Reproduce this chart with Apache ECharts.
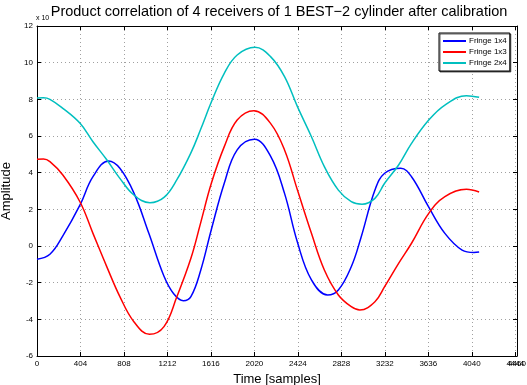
<!DOCTYPE html>
<html lang="en">
<head>
	<meta charset="UTF-8">
	<title>Product correlation</title>
	<style>
		html, body { margin: 0; padding: 0; background: #fff; }
	</style>
</head>
<body>
	<div id="container" style="width: 527px;height:385px;"></div>

	<script src="https://cdn.jsdelivr.net/npm/echarts@6/dist/echarts.min.js"></script>
	<script>
        // Fringe 1x4 (blue): sample position and amplitude
        var blueX = [0, 120, 240, 400, 520, 665, 770, 900, 1040, 1180, 1270, 1360, 1430, 1520, 1620, 1740, 1860, 2020,
            2170, 2300, 2420, 2550, 2700, 2800, 2920, 3010, 3140, 3230, 3380, 3480, 3640, 3790, 3950, 4060, 4108];
        var blueY = [-0.72, -0.45, 0.55, 2.24, 3.78, 4.64, 4.24, 2.9, 0.68, -1.65, -2.6, -2.98, -2.76, -1.35, 0.9, 3.42, 5.24, 5.82,
            4.9, 2.87, 0.2, -1.85, -2.67, -2.4, -1.13, 0.45, 3.05, 3.97, 4.24, 3.78, 2.12, 0.69, -0.22, -0.35, -0.33];

        // Fringe 1x3 (red)
        var redX = [0, 60, 120, 240, 400, 520, 650, 770, 900, 1045, 1180, 1300, 1430, 1520, 1620, 1740, 1860, 2015,
            2170, 2300, 2420, 2550, 2670, 2800, 2920, 3000, 3140, 3230, 3360, 3480, 3640, 3790, 3990, 4108];
        var redY = [4.73, 4.74, 4.6, 3.87, 2.4, 0.69, -1.15, -2.76, -4.13, -4.82, -4.4, -2.76, -0.67, 1.25, 3.42, 5.42, 6.87, 7.38,
            6.69, 5.24, 3.05, 0.69, -1.31, -2.67, -3.31, -3.49, -3.04, -2.22, -0.95, 0.15, 1.78, 2.69, 3.09, 2.95];

        // Fringe 2x4 (cyan)
        var cyanX = [0, 60, 120, 240, 400, 520, 650, 770, 900, 1050, 1180, 1300, 1430, 1520, 1620, 1740, 1860, 2025,
            2170, 2300, 2420, 2550, 2670, 2800, 2920, 3020, 3140, 3230, 3360, 3480, 3640, 3790, 3990, 4108];
        var cyanY = [8.07, 8.08, 8.0, 7.51, 6.69, 5.69, 4.69, 3.69, 2.78, 2.36, 2.65, 3.62, 5.08, 6.35, 7.85, 9.42, 10.42, 10.84,
            10.33, 9.24, 7.6, 5.96, 4.33, 3.05, 2.42, 2.28, 2.6, 3.42, 4.42, 5.6, 6.87, 7.69, 8.2, 8.11];

        var seriesNames = ['Fringe 1x4', 'Fringe 1x3', 'Fringe 2x4'];
        var seriesColors = ['#0000ff', '#ff0000', '#00bfbf'];
        var seriesXs = [blueX, redX, cyanX];
        var seriesYs = [blueY, redY, cyanY];

        var xMin = 0, xMax = 4460, xStep = 404;
        var yMin = -6, yMax = 12, yStep = 2;

        var fontName = 'Liberation Sans, Arial, Helvetica, sans-serif';

        function pairs(xs, ys) {
            var out = [];
            for (var i = 0; i < xs.length; i++) {
                out.push([xs[i], ys[i]]);
            }
            return out;
        }

        var gridLine = { show: true, lineStyle: { color: '#a0a0a0', type: [1, 3], width: 1 } };
        var boxLine = { show: true, onZero: false, lineStyle: { color: '#000', width: 1 } };
        var inTick = { show: true, inside: true, length: 4, lineStyle: { color: '#000', width: 1 } };
        var plainNumber = function (v) { return String(v); };

        var series = [];
        for (var i = 0; i < seriesNames.length; i++) {
            series.push({
                name: seriesNames[i],
                type: 'line',
                data: pairs(seriesXs[i], seriesYs[i]),
                smooth: 0.4,
                symbol: 'none',
                lineStyle: { color: seriesColors[i], width: 1.5 },
                itemStyle: { color: seriesColors[i] }
            });
        }

        var xLabelText = { type: 'text', left: 36, top: 15, style: { text: 'x 10', fontSize: 7, fill: '#000', fontFamily: fontName } };

        var option = {
            animation: false,
            backgroundColor: '#fff',
            textStyle: { fontFamily: fontName },
            title: {
                text: 'Product correlation of 4 receivers of 1 BEST\u22122 cylinder after calibration',
                left: 279,
                top: 4,
                textAlign: 'center',
                padding: 0,
                textStyle: { fontSize: 14.5, fontWeight: 'normal', color: '#000', fontFamily: fontName }
            },
            legend: {
                orient: 'vertical',
                left: 439,
                top: 33,
                align: 'left',
                padding: [3, 3, 3, 4],
                itemGap: 1,
                itemWidth: 23,
                itemHeight: 2,
                icon: 'rect',
                backgroundColor: '#fff',
                borderColor: '#000',
                borderWidth: 1,
                shadowColor: 'rgba(0,0,0,0.6)',
                shadowOffsetX: 1,
                shadowOffsetY: 1,
                textStyle: { fontSize: 8, color: '#000', fontFamily: fontName, padding: [0, 0, 0, -2], lineHeight: 10 },
                data: seriesNames
            },
            grid: {
                left: 37,
                right: 10,
                top: 26,
                bottom: 29,
                outerBoundsMode: 'none'
            },
            xAxis: [{
                type: 'value',
                min: xMin,
                max: xMax,
                interval: xStep,
                name: 'Time [samples]',
                nameLocation: 'middle',
                nameGap: 11,
                nameTextStyle: { fontSize: 13, color: '#000', fontFamily: fontName },
                axisLine: boxLine,
                axisTick: inTick,
                splitLine: gridLine,
                axisLabel: { fontSize: 8, color: '#000', margin: 4, fontFamily: fontName, formatter: plainNumber }
            }, {
                type: 'value',
                position: 'top',
                min: xMin,
                max: xMax,
                interval: xStep,
                axisLine: boxLine,
                axisTick: inTick,
                splitLine: { show: false },
                axisLabel: { show: false }
            }],
            yAxis: [{
                type: 'value',
                min: yMin,
                max: yMax,
                interval: yStep,
                name: 'Amplitude',
                nameLocation: 'middle',
                nameGap: 18,
                nameTextStyle: { fontSize: 13, color: '#000', fontFamily: fontName },
                axisLine: boxLine,
                axisTick: inTick,
                splitLine: gridLine,
                axisLabel: { fontSize: 8, color: '#000', margin: 4, fontFamily: fontName, formatter: plainNumber }
            }, {
                type: 'value',
                position: 'right',
                min: yMin,
                max: yMax,
                interval: yStep,
                axisLine: boxLine,
                axisTick: inTick,
                splitLine: { show: false },
                axisLabel: { show: false }
            }],
            graphic: [xLabelText],
            series: series
        };

        var myChart = echarts.init(document.getElementById('container'), null, { renderer: 'canvas' });
        myChart.setOption(option);

        // the axis end (xMax) gets its own label, as in the original plot
        var endPt = myChart.convertToPixel({ xAxisIndex: 0, yAxisIndex: 0 }, [xMax, yMin]);
        myChart.setOption({
            graphic: [xLabelText, {
                type: 'text',
                x: endPt[0],
                y: endPt[1] + 4,
                style: { text: String(xMax), fontSize: 8, fill: '#000', fontFamily: fontName, align: 'center', verticalAlign: 'top' }
            }]
        });
    </script>
</body>
</html>
